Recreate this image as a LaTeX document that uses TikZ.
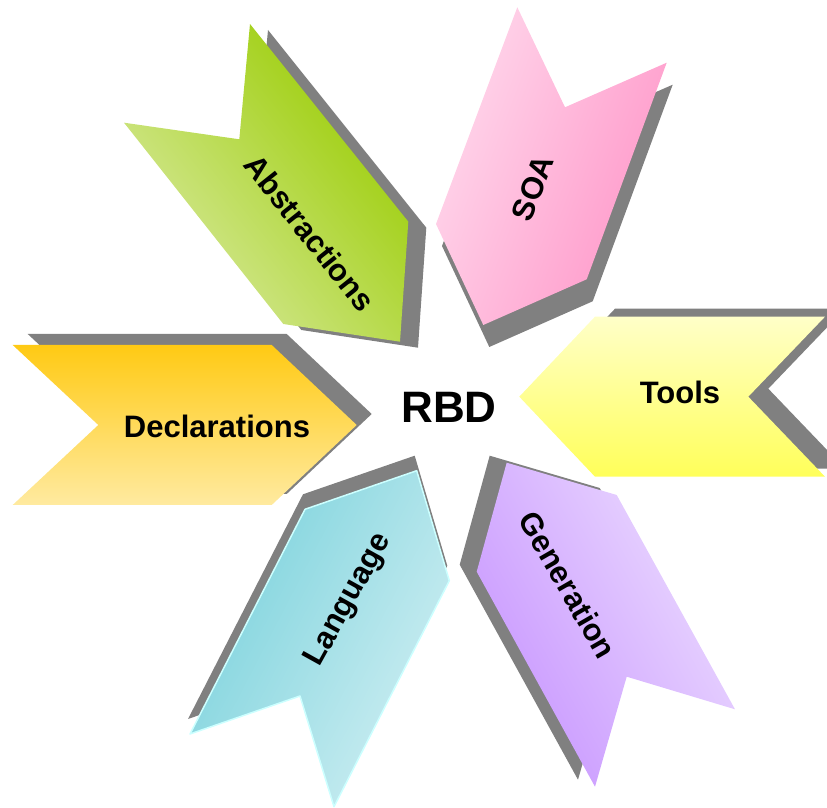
\documentclass[tikz,border=0pt]{standalone}
\usepackage{fontspec}
\setmainfont{Liberation Sans}
\definecolor{shgray}{RGB}{128,128,128}
\definecolor{declTop}{RGB}{255,202,20}
\definecolor{declBot}{RGB}{255,234,160}
\definecolor{abstDark}{RGB}{153,204,0}
\definecolor{abstPale}{RGB}{217,234,160}
\definecolor{soaDark}{RGB}{255,150,200}
\definecolor{soaPale}{RGB}{255,216,236}
\definecolor{toolDark}{RGB}{255,255,90}
\definecolor{toolPale}{RGB}{255,255,200}
\definecolor{genDark}{RGB}{200,150,255}
\definecolor{genPale}{RGB}{236,220,255}
\definecolor{langDark}{RGB}{122,210,220}
\definecolor{langPale}{RGB}{206,238,242}
\definecolor{langEdge}{RGB}{204,255,255}
\tikzset{
  chev/.style n args={3}{shading=axis,top color=#1,bottom color=#2,shading angle=#3},
  drop/.style 2 args={preaction={fill=shgray,transform canvas={shift={(#1pt,#2pt)}}}},
  lbl/.style={font=\fontsize{31}{36}\selectfont\bfseries,inner sep=0pt}
}
\begin{document}
\begin{tikzpicture}[x=1pt,y=1pt,line join=round]
\useasboundingbox (0,0) rectangle (827,808);
% arrows round the centre
\shade[chev={abstDark}{abstPale}{-51.5},drop={18}{-6}]
  (124,685.3) -- (239.3,668.7) -- (250,784) -- (408.3,586.3)
  -- (400,466.3) -- (283.3,484) -- cycle;
\shade[chev={soaDark}{soaPale}{249.4},drop={6}{-22}]
  (517.3,800.7) -- (565,700.7) -- (666.7,745.3) -- (586.7,528.7)
  -- (483.3,483) -- (436,584) -- cycle;
\shade[chev={toolDark}{toolPale}{180},drop={20}{8}]
  (595,491.3) -- (825,491.3) -- (748.3,411.3) -- (825,331.3)
  -- (595,331.3) -- (519.3,411.3) -- cycle;
\shade[chev={genDark}{genPale}{119.3},drop={-17}{7}]
  (506.7,345.3) -- (616.7,313) -- (735,98.7) -- (626.7,131.3)
  -- (595,21.3) -- (476.7,236.3) -- cycle;
\shade[chev={langDark}{langPale}{62.6},drop={-2}{15},draw=langEdge,line width=1.5pt]
  (305,298.7) -- (416.7,337.3) -- (449.3,227.3) -- (334,1.3)
  -- (300,112) -- (190,74) -- cycle;
\shade[chev={declTop}{declBot}{0},drop={15}{11}]
  (12.7,463) -- (271.7,463) -- (356.7,383) -- (271.7,303)
  -- (12.7,303) -- (98.3,383) -- cycle;
% labels
\node[lbl,font=\fontsize{44}{50}\selectfont\bfseries] (rbd) at (449,400.5) {RBD};
\node[lbl] (decl) at (217,382) {Declarations};
\node[lbl] (tools) at (680,416) {Tools};
\node[lbl,rotate=-51.5] (abst) at (310,575) {Abstractions};
\node[lbl,rotate=69] (soa) at (533,620) {SOA};
\node[lbl,rotate=-60] (gen) at (568,223) {Generation};
\node[lbl,rotate=61] (lang) at (349,208) {Language};
\end{tikzpicture}
\end{document}
